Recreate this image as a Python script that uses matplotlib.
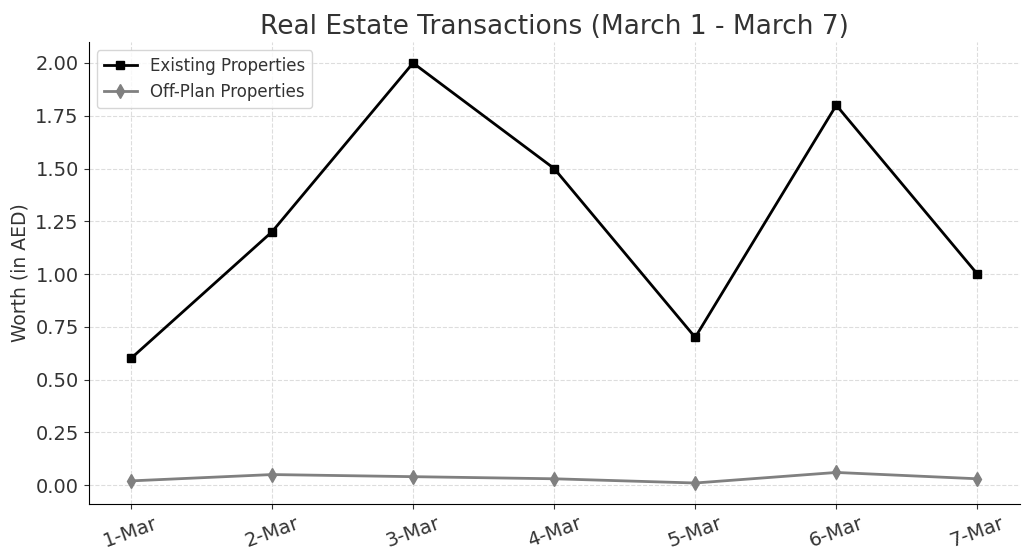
import matplotlib
matplotlib.use('Agg')
import matplotlib.pyplot as plt

# Dữ liệu
days = ['1-Mar', '2-Mar', '3-Mar', '4-Mar', '5-Mar', '6-Mar', '7-Mar']
existing = [0.6, 1.2, 2.0, 1.5, 0.7, 1.8, 1.0]
off_plan = [0.02, 0.05, 0.04, 0.03, 0.01, 0.06, 0.03]

text_color = '#333333'
plt.rcParams['text.color'] = text_color
plt.rcParams['axes.labelcolor'] = text_color
plt.rcParams['xtick.color'] = text_color
plt.rcParams['ytick.color'] = text_color

fig, ax = plt.subplots(figsize=(10.3, 5.6), dpi=100)

ax.plot(days, existing, color='black', marker='s', markersize=6, linewidth=2, label='Existing Properties')
ax.plot(days, off_plan, color='gray', marker='d', markersize=7, linewidth=2, label='Off-Plan Properties')

ax.set_title('Real Estate Transactions (March 1 - March 7)', fontsize=19)
ax.set_ylabel('Worth (in AED)', fontsize=13.5)
ax.tick_params(axis='both', labelsize=14)
ax.tick_params(axis='x', rotation=20)
ax.yaxis.set_major_formatter(matplotlib.ticker.FormatStrFormatter('%.2f'))
ax.grid(True, linestyle='--', color='#dddddd', linewidth=0.8)
ax.spines['top'].set_visible(False)
ax.spines['right'].set_visible(False)
ax.legend(loc='upper left', fontsize=12)

plt.subplots_adjust(left=0.086, right=0.99, top=0.925, bottom=0.1)
plt.savefig('out.png')
plt.close()
